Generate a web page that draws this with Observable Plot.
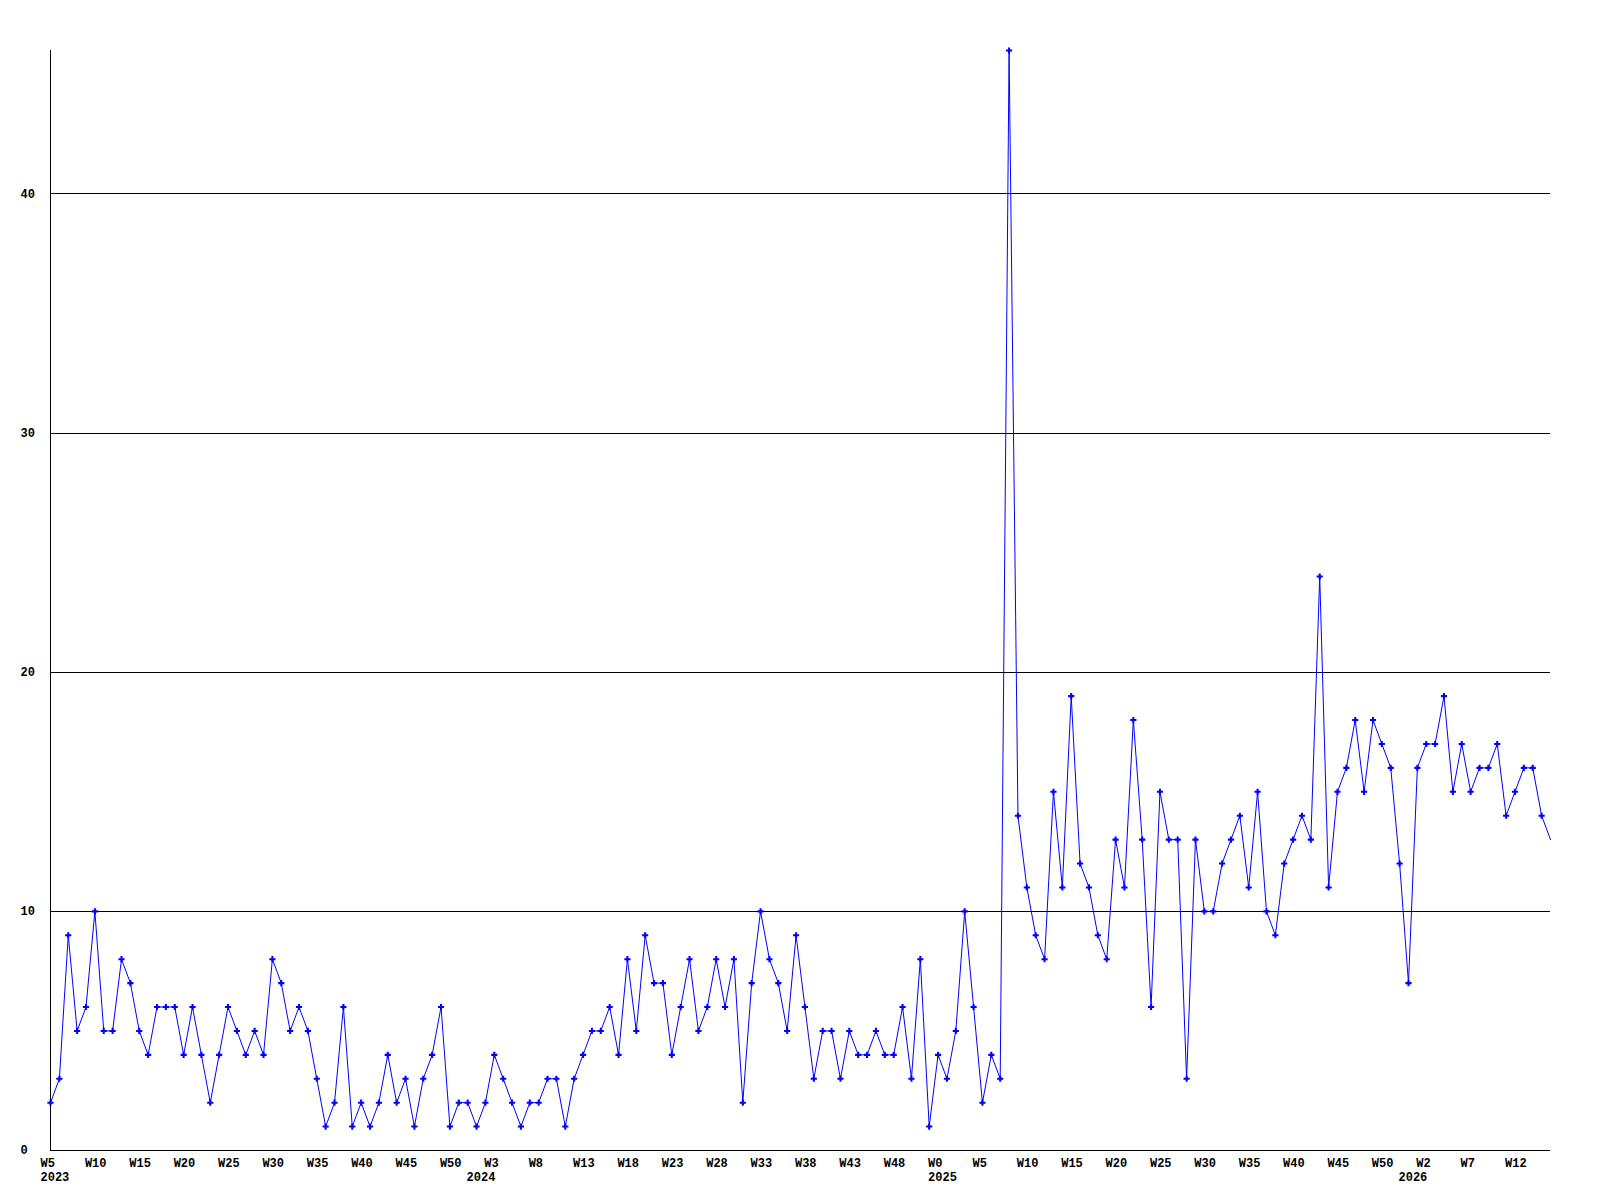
<!DOCTYPE html>
<html><head><meta charset="utf-8">
<script src="https://cdn.jsdelivr.net/npm/d3@7"></script>
<script src="https://cdn.jsdelivr.net/npm/@observablehq/plot@0.6"></script>
<style>body{margin:0;background:#fff}</style>
</head><body><div id="chart"></div>
<script>
// year, first week, last week shown
const yearSpans = [["2023",5,52],["2024",1,52],["2025",0,52],["2026",0,16]];
const counts = [
  2,3,9,5,6,10,5,5,8,7,5,4,6,6,6,4,6,4,2,4,6,5,4,5,4,8,7,5,6,5,3,1,2,6,1,2,1,2,4,2,3,1,3,4,6,1,2,2,
  1,2,4,3,2,1,2,2,3,3,1,3,4,5,5,6,4,8,5,9,7,7,4,6,8,5,6,8,6,8,2,7,10,8,7,5,9,6,3,5,5,3,5,4,4,5,4,4,6,3,8,1,
  4,3,5,10,6,2,4,3,46,14,11,9,8,15,11,19,12,11,9,8,13,11,18,13,6,15,13,13,3,13,10,10,12,13,14,11,15,10,9,12,13,14,13,24,11,15,16,18,15,18,17,16,12,
  7,16,17,17,19,15,17,15,16,16,17,14,15,16,16,14,13
];
const yTicks = [0,10,20,30,40];
const gridValues = [10,20,30,40];

const weeks = [];
for (const [year, first, last] of yearSpans)
  for (let w = first; w <= last; w++) weeks.push({key: `${year}-W${w}`, label: `W${w}`, year, first: w === first});
const data = weeks.map((w, i) => ({...w, i, value: counts[i]}));
const weekTicks = data.filter(d => d.i % 5 === 0);
const yearTicks = data.filter(d => d.first);
// the reference's final (partial) week shows no marker
const markerData = data.slice(0, -1);

const font = "'Liberation Mono','DejaVu Sans Mono',monospace";
const txt = {fontSize: 12, fontWeight: "bold", fill: "#000", fontFamily: font};
const chart = Plot.plot({
  width: 1600, height: 1200,
  marginLeft: 50, marginRight: 50, marginTop: 50, marginBottom: 50,
  x: {type: "point", domain: data.map(d => d.key), padding: 0, axis: null},
  y: {domain: [0, 46], axis: null},
  style: {fontFamily: font, background: "#fff"},
  marks: [
    Plot.ruleY(gridValues, {stroke: "#000", strokeWidth: 1, shapeRendering: "crispEdges"}),
    Plot.ruleY([0], {stroke: "#000", strokeWidth: 1, shapeRendering: "crispEdges"}),
    Plot.ruleX([data[0].key], {y1: 0, y2: 46, stroke: "#000", strokeWidth: 1, shapeRendering: "crispEdges"}),
    Plot.line(data, {x: "key", y: "value", stroke: "#0000ff", strokeWidth: 1}),
    Plot.dot(markerData, {x: "key", y: "value", symbol: "cross", r: 2.6, fill: "#0000ff", stroke: "none"}),
    Plot.text(yTicks, {y: d => d, text: d => String(d), frameAnchor: "left", dx: -30, textAnchor: "start", ...txt}),
    Plot.text(weekTicks, {x: "key", y: d => 0, text: "label", textAnchor: "start", dx: -10, dy: 8, lineAnchor: "top", ...txt}),
    Plot.text(yearTicks, {x: "key", y: d => 0, text: "year", textAnchor: "start", dx: -10, dy: 22, lineAnchor: "top", ...txt})
  ]
});
document.getElementById("chart").append(chart);
</script>
</body></html>
